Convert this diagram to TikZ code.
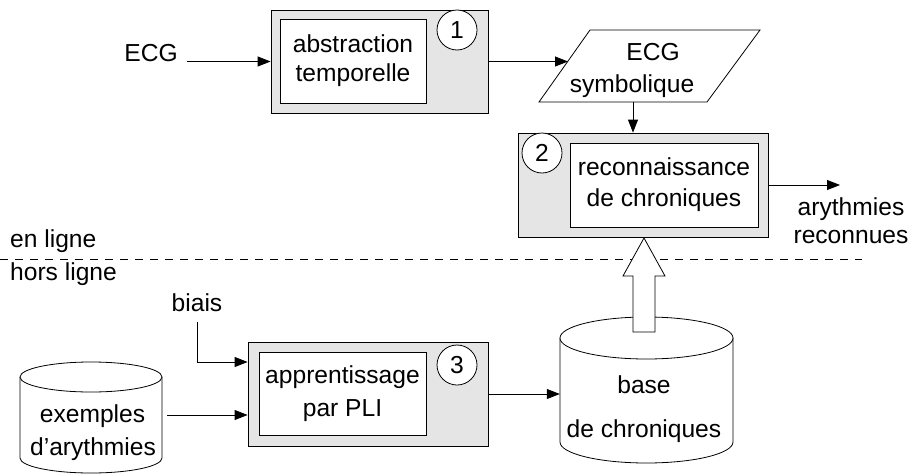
\documentclass[tikz,border=0pt]{standalone}
\usepackage{fontspec}
\setmainfont{Liberation Sans}
\usetikzlibrary{arrows.meta}
\begin{document}
\begin{tikzpicture}[x=1pt,y=-1pt,
  every node/.style={font=\fontsize{24.6}{30}\selectfont, inner sep=0pt},
  outer/.style={draw, fill=gray!20, line width=0.8pt},
  innerbox/.style={draw, fill=white, line width=0.8pt, align=center},
  num/.style={draw, circle, fill=white, minimum size=40pt, line width=0.8pt},
  arr/.style={-{Triangle[length=13pt,width=10pt]}, line width=0.8pt},
  lbl/.style={anchor=base},
  lline/.style={line width=0.8pt}]
\useasboundingbox (0,0) rectangle (908,474);

% dashed separator
\coordinate (dl) at (0,259);
\coordinate (dr) at (862,259);
\draw[lline, dash pattern=on 8pt off 7pt] (dl) -- (dr);
\node[anchor=base west] (enligne) at (10,247) {en ligne};
\node[anchor=base west] (horsligne) at (10,280) {hors ligne};

% box 1
\node[outer, minimum width=217pt, minimum height=103pt] (b1) at (379.5,61.5) {};
\node[innerbox, minimum width=146pt, minimum height=84pt, font=\fontsize{24.6}{29}\selectfont] (t1) at (353,61) {abstraction\\temporelle};
\node[num] (n1) at (457,30) {1};

% ECG input
\node[lbl] (ecg) at (151,61) {ECG};
\coordinate (ecgs) at (187,61.5);
\draw[arr] (ecgs) -- (ecgs -| b1.west);

% parallelogram
\draw[lline] (590,30) -- (760,30) -- (707,102) -- (539,102) -- cycle;
\node[lbl] (ecgsym1) at (653,60) {ECG};
\node[lbl] (ecgsym2) at (632,92) {symbolique};
\coordinate (pin) at (568,61.5);
\coordinate (pout) at (633,102);
\draw[arr] (b1.east) -- (b1.east -| pin);

% box 2
\node[outer, minimum width=250pt, minimum height=104pt] (b2) at (643,185) {};
\node[innerbox, minimum width=188pt, minimum height=84pt, font=\fontsize{24.6}{31}\selectfont] (t2) at (664,185) {reconnaissance\\de chroniques};
\node[num] (n2) at (542,153) {2};
\draw[arr] (pout) -- (pout |- b2.north);

\coordinate (outend) at (840,185);
\draw[arr] (b2.east) -- (outend);
\node[lbl] (ary) at (851,215) {arythmies};
\node[lbl] (rec) at (851,243) {reconnues};

% base de chroniques cylinder
\draw[lline, fill=white] (560,338) -- (560,442) arc[start angle=180, end angle=360, x radius=86.5pt, y radius=21pt] -- (733,338);
\draw[lline, fill=white] (646.5,338) ellipse[x radius=86.5pt, y radius=21pt];
\node[minimum width=173pt, minimum height=112pt] (base) at (646.5,394) {};
\node[lbl] (base1) at (644,393) {base};
\node[lbl] (base2) at (644,437) {de chroniques};

% hollow arrow
\draw[lline, fill=white] (633,332) -- (633,276) -- (623,276) -- (644,238) -- (665,276) -- (655,276) -- (655,332) -- cycle;

% box 3
\node[outer, minimum width=240pt, minimum height=104pt] (b3) at (368,394) {};
\node[innerbox, minimum width=167pt, minimum height=83pt, font=\fontsize{24.6}{33}\selectfont] (t3) at (342.5,393.5) {apprentissage\\par PLI};
\node[num] (n3) at (457,365) {3};
\draw[arr] (b3.east) -- (b3.east -| base.west);

% biais
\node[lbl] (biais) at (197,311) {biais};
\coordinate (bs) at (197,322);
\draw[arr] (bs) |- ([yshift=32pt]b3.west);

% exemples cylinder
\draw[lline, fill=white] (20,377) -- (20,458) arc[start angle=180, end angle=360, x radius=71pt, y radius=15pt] -- (162,377);
\draw[lline, fill=white] (91,377) ellipse[x radius=71pt, y radius=15pt];
\node[minimum width=142pt, minimum height=81pt] (ex) at (91,417.5) {};
\node[lbl] (ex1) at (92.5,422) {exemples};
\node[lbl] (ex2) at (93,455) {d’arythmies};
\coordinate (exs) at (167,415);
\draw[arr] (exs) -- (exs -| b3.west);
\end{tikzpicture}
\end{document}
